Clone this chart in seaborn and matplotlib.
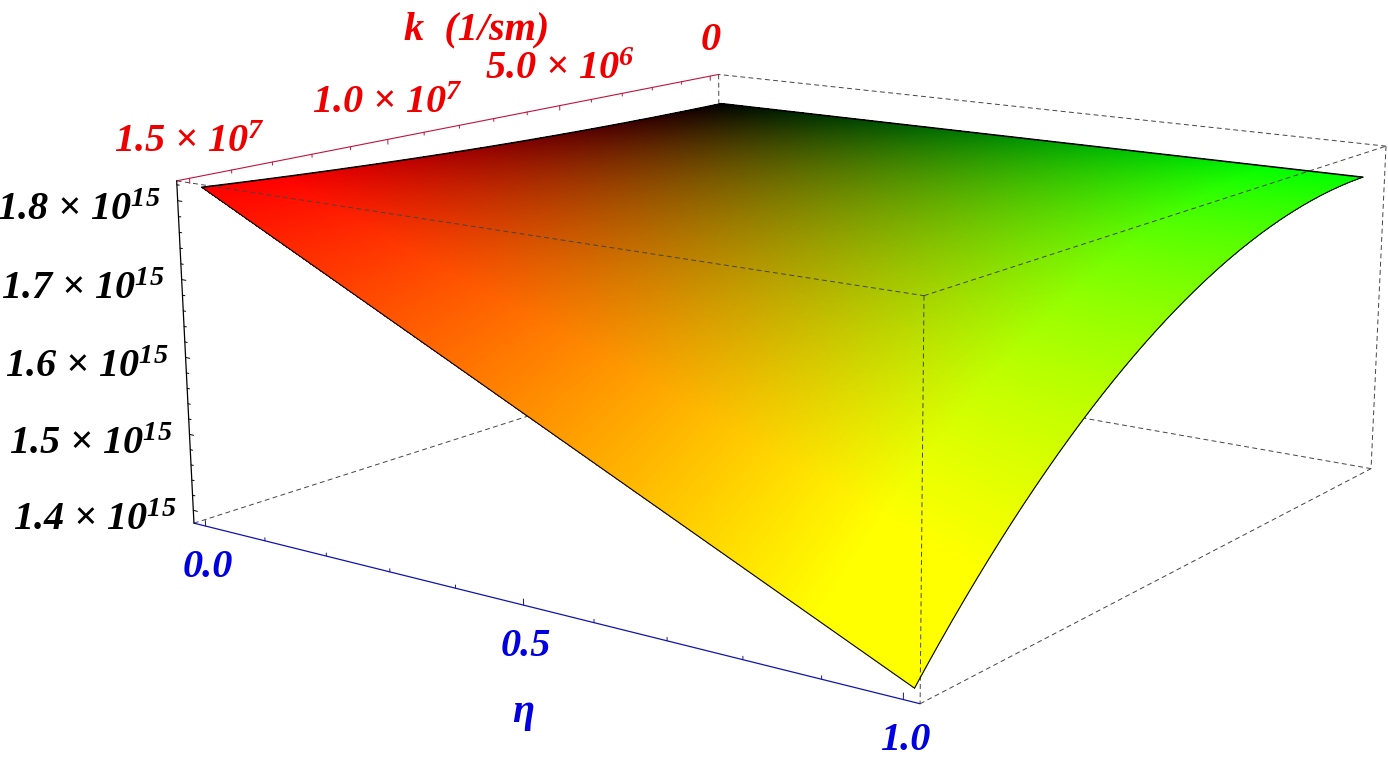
import numpy as np
import seaborn as sns
import matplotlib
matplotlib.use('Agg')
import matplotlib.pyplot as plt
from mpl_toolkits.mplot3d import proj3d

sns.set_theme(style='white')
plt.rcParams['font.family'] = ['Liberation Serif']
plt.rcParams['mathtext.default'] = 'regular'

# values
k_values = [0, 1.5e6, 3e6, 4.5e6, 6e6, 7.5e6, 9e6, 10.5e6, 12e6, 13.5e6, 15e6]
eta_values = [0.0, 0.5, 1.0]
z_eta_00 = [1.7845, 1.7848, 1.7858, 1.7873, 1.7895, 1.7924, 1.7958, 1.8000, 1.8047, 1.8100, 1.8160]
z_eta_05 = [1.7845, 1.7824, 1.7774, 1.7687, 1.7573, 1.7417, 1.7219, 1.6985, 1.6714, 1.6400, 1.6025]
z_eta_10 = [1.7845, 1.7800, 1.7690, 1.7500, 1.7250, 1.6910, 1.6480, 1.5970, 1.5380, 1.4700, 1.3890]

k_major = [0, 5e6, 1e7, 1.5e7]
k_labels = ['0', '5.0 × 10$^{6}$', '1.0 × 10$^{7}$', '1.5 × 10$^{7}$']
k_minor = [1e6, 2e6, 3e6, 4e6, 6e6, 7e6, 8e6, 9e6, 11e6, 12e6, 13e6, 14e6]
eta_major = [0.0, 0.5, 1.0]
eta_labels = ['0.0', '0.5', '1.0']
eta_minor = [0.1, 0.2, 0.3, 0.4, 0.6, 0.7, 0.8, 0.9]
z_major = [1.4, 1.5, 1.6, 1.7, 1.8]
z_labels = ['1.4 × 10$^{15}$', '1.5 × 10$^{15}$', '1.6 × 10$^{15}$', '1.7 × 10$^{15}$', '1.8 × 10$^{15}$']
z_minor = [1.42, 1.44, 1.46, 1.48, 1.52, 1.54, 1.56, 1.58, 1.62, 1.64, 1.66, 1.68, 1.72, 1.74, 1.76, 1.78, 1.82]

k_lim = (-0.3e6, 15.3e6)
eta_lim = (-0.02, 1.02)
z_lim = (1.383, 1.825)

# camera fitted to the box corners
scale, cx, cy = 6582.317, 800.839, 331.220
W, H = 1388, 764
side = scale * 0.185
fig = plt.figure(figsize=(W / 100, H / 100), dpi=100)
ax = fig.add_axes([(cx - 0.095 * scale) / W, (H - cy - 0.095 * scale) / H, side / W, side / H],
                  projection='3d', computed_zorder=False)
ax.set_xlim(k_lim)
ax.set_ylim(eta_lim)
ax.set_zlim(z_lim)
ax.view_init(13.39804, 35.80775, 0.02508)
ax.set_proj_type('persp', focal_length=0.44593)
ax.set_box_aspect((1, 1.00263, 0.40046))
ax.set_axis_off()

# surface: the read table smoothed along k, split into small facets so the colour runs evenly
table = np.array([z_eta_00, z_eta_05, z_eta_10])
k_fine = np.linspace(k_values[0], k_values[-1], 221)
eta_fine = np.linspace(0, 1, 221)
by_k = np.array([np.polyval(np.polyfit(np.array(k_values) / 1e7, row, 4), k_fine / 1e7) for row in table])
z_fine = np.array([np.interp(eta_fine, eta_values, by_k[:, i]) for i in range(len(k_fine))])
K, E = np.meshgrid(k_fine, eta_fine, indexing='ij')
# the original's lighting pushes the colours a bit past the plain k / eta ramp
colors = np.clip(np.dstack([K / k_values[-1], E, np.zeros_like(K)]) * 1.14, 0, 1)
ax.plot_surface(K, E, z_fine, facecolors=colors, rstride=1, cstride=1, shade=False,
                linewidth=0, antialiased=False, zorder=2)

# surface outline
ax.plot(k_fine, eta_fine * 0, z_fine[:, 0], color='black', lw=1.1, zorder=4)
ax.plot(k_fine * 0, eta_fine, z_fine[0, :], color='black', lw=1.1, zorder=4)
ax.plot(k_fine, eta_fine * 0 + 1, z_fine[:, -1], color='black', lw=0.8, zorder=4)
ax.plot(k_fine * 0 + k_values[-1], eta_fine, z_fine[-1, :], color='black', lw=0.8, zorder=4)

# box
k0, k1 = k_lim
e0, e1 = eta_lim
z0, z1 = z_lim
dash = dict(color='#444444', lw=0.7, dashes=(5, 3.5))
for p, q in [((k0, e0, z1), (k0, e0, z0)), ((k1, e0, z0), (k0, e0, z0)), ((k0, e1, z0), (k0, e0, z0))]:
    ax.plot(*zip(p, q), zorder=1, **dash)
for p, q in [((k1, e0, z1), (k1, e1, z1)), ((k1, e1, z1), (k0, e1, z1)), ((k0, e1, z1), (k0, e0, z1)),
             ((k1, e1, z1), (k1, e1, z0)), ((k0, e1, z1), (k0, e1, z0)), ((k1, e1, z0), (k0, e1, z0))]:
    ax.plot(*zip(p, q), zorder=3, **dash)

red_line, blue_line = '#c0143c', '#1414a8'
ax.plot([k0, k1], [e0, e0], [z1, z1], color=red_line, lw=0.8, zorder=5)
ax.plot([k1, k1], [e0, e1], [z0, z0], color=blue_line, lw=0.9, zorder=5)
ax.plot([k1, k1], [e0, e0], [z0, z1], color='black', lw=0.9, zorder=5)

# ticks
for ks, length in [(k_major, 0.0065), (k_minor, 0.004)]:
    for k in ks:
        ax.plot([k, k], [e0, e0], [z1, z1 - length], color=red_line, lw=0.7, zorder=5)
for es, length in [(eta_major, 0.0075), (eta_minor, 0.004)]:
    for e in es:
        ax.plot([k1, k1], [e, e], [z0, z0 + length], color=blue_line, lw=0.7, zorder=5)
for zs, length in [(z_major, 0.007), (z_minor, 0.004)]:
    for z in zs:
        ax.plot([k1, k1], [e0, e0 + length], [z, z], color='black', lw=0.7, zorder=5)


def put_label(x, y, z, text, dx, dy, color, ha='center', size=29):
    u, v, _ = proj3d.proj_transform(x, y, z, ax.get_proj())
    ax.annotate(text, (u, v), xytext=(dx, dy), textcoords='offset pixels', ha=ha, va='center',
                color=color, fontsize=size, fontweight='bold', fontstyle='italic',
                annotation_clip=False, zorder=6)


red_text, blue_text = '#ee0000', '#0000e0'
for k, text in zip(k_major, k_labels):
    put_label(k, e0, z1, text, 0, 36, red_text)
for e, text in zip(eta_major, eta_labels):
    put_label(k1, e, z0, text, 2, -41, blue_text)
for z, text in zip(z_major, z_labels):
    put_label(k1, e0, z, text, -17, -10, 'black', ha='right')
put_label(7.5e6, e0, z1, 'k  (1/sm)', 0, 92, red_text)
put_label(k1, 0.5, z0, 'η', 0, -107, blue_text)

fig.savefig('out.png', dpi=100)
